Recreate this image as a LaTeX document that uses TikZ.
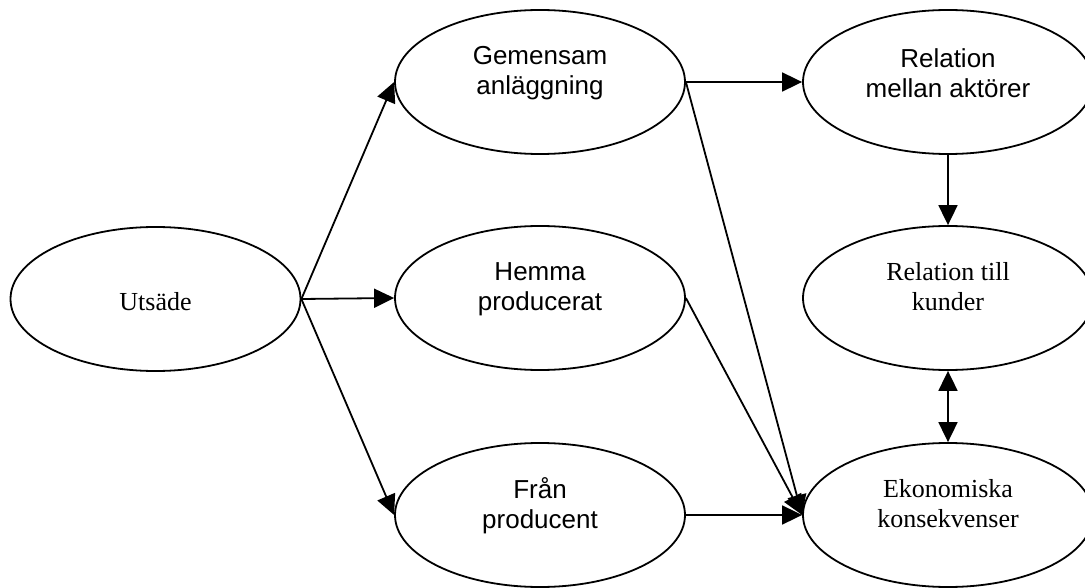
\documentclass[tikz,border=0pt]{standalone}
\usepackage{fontspec}
\setmainfont{Liberation Serif}
\newfontfamily\arialfont{Liberation Sans}
\usetikzlibrary{shapes.geometric,arrows.meta}
\tikzset{wtri/.tip={Triangle[length=20pt,width=19pt]}}
\begin{document}
\begin{tikzpicture}[x=1pt,y=-1pt,
  bubble/.style={ellipse,draw,line width=1.8pt,minimum width=290pt,minimum height=144pt,inner sep=0pt},
  serifcap/.style={align=center,inner sep=0pt,font=\fontsize{26}{30}\selectfont},
  sanscap/.style={align=center,inner sep=0pt,font=\arialfont\fontsize{26}{30}\selectfont},
  link/.style={line width=1.8pt,-wtri},
  twoway/.style={line width=1.8pt,wtri-wtri}]
\useasboundingbox (0,0) rectangle (1085,588);

% ellipses
\node[bubble] (uts) at (155.5,299) {};
\node[bubble] (gem) at (540,82) {};
\node[bubble] (hem) at (540,298) {};
\node[bubble] (fra) at (540,515) {};
\node[bubble] (rma) at (948,82) {};
\node[bubble] (rtk) at (948,298) {};
\node[bubble] (eko) at (948,515) {};

% texts
\node[serifcap] (utst) at ([yshift=-3pt]uts.center) {Utsäde};
\node[sanscap] (gemt) at ([yshift=9pt]gem.center) {Gemensam\\anläggning};
\node[sanscap] (hemt) at ([yshift=9pt]hem.center) {Hemma\\producerat};
\node[sanscap] (frat) at ([yshift=9.5pt]fra.center) {Från\\producent};
\node[sanscap] (rmat) at ([yshift=8.5pt]rma.center) {Relation\\mellan aktörer};
\node[serifcap] (rtkt) at ([yshift=11.5pt]rtk.center) {Relation till\\kunder};
\node[serifcap] (ekot) at ([yshift=11pt]eko.center) {Ekonomiska\\konsekvenser};

% connectors
\draw[link] (uts.east) -- (gem.west);
\draw[link] (uts.east) -- (hem.west);
\draw[link] (uts.east) -- (fra.west);
\draw[link] (gem.east) -- (rma.west);
\draw[link] (gem.east) -- (eko.west);
\draw[link] (hem.east) -- (eko.west);
\draw[link] (fra.east) -- (eko.west);
\draw[link] (rma.south) -- (rtk.north);
\draw[twoway] (rtk.south) -- (eko.north);
\end{tikzpicture}
\end{document}
